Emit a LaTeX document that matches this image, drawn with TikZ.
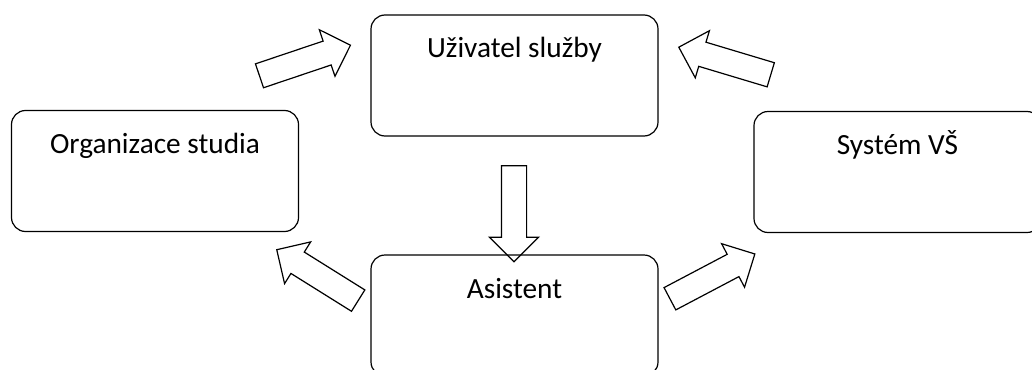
\documentclass[tikz,border=0pt]{standalone}
\usepackage{fontspec}
\setmainfont{Carlito}
\usetikzlibrary{shapes.arrows}

\tikzset{
  blok/.style={draw, line width=1.2pt, rounded corners=14pt, minimum width=287pt,
    inner sep=0pt, text height=43pt, text depth=78pt,
    font=\fontsize{29.3}{34}\selectfont},
  sipka/.style={draw, line width=1.2pt, single arrow, single arrow head extend=12pt,
    inner xsep=0pt, inner ysep=12pt, minimum height=96pt},
}

\begin{document}
\begin{tikzpicture}[x=1pt,y=-1pt]
\useasboundingbox (0,0) rectangle (1032,369);
% bloky
\node[blok] (uzivatel) at (514.5,75.5) {Uživatel služby};
\node[blok] (organizace) at (155,171) {Organizace studia};
\node[blok] (system) at (897.5,172) {Systém VŠ};
\node[blok] (asistent) at (514.5,315.5) {Asistent};
% sipky
\node[sipka, rotate=18.6] (s1) at (299,62.5) {};
\node[sipka, rotate=163.3] (s2) at (730.8,62.8) {};
\node[sipka, rotate=-90] (s3) at (514,207.5) {};
\node[sipka, rotate=148] (s4) at (322.8,278.5) {};
\node[sipka, rotate=27.8] (s5) at (706.8,279.3) {};
\end{tikzpicture}
\end{document}
